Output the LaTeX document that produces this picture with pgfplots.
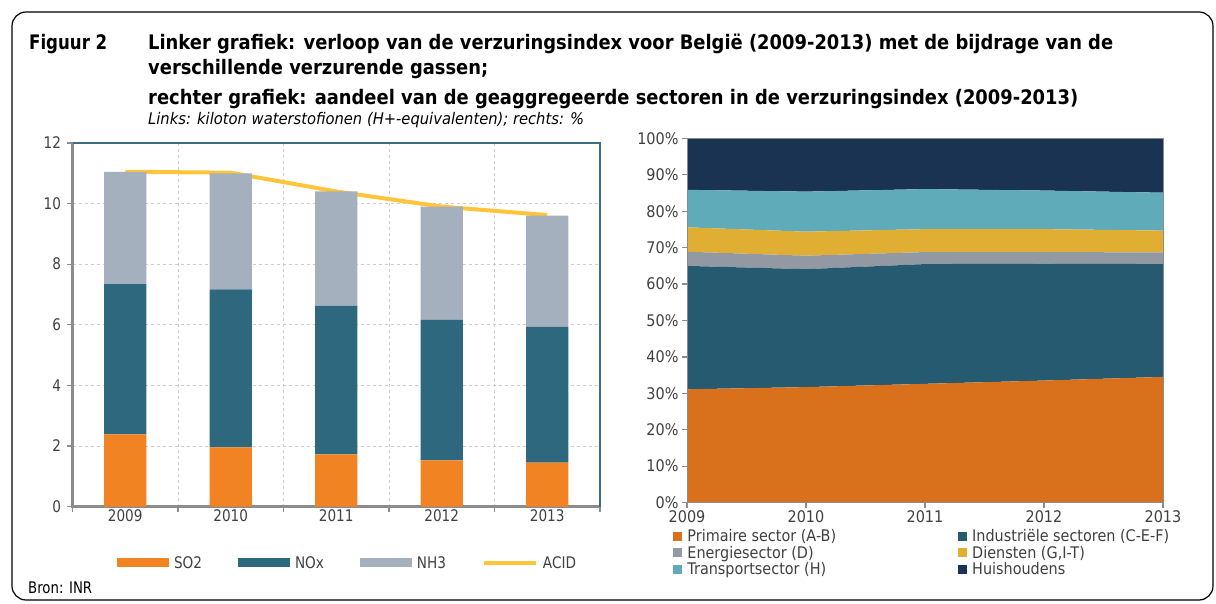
\documentclass[border=0pt]{standalone}
\usepackage{fontspec}
\setmainfont{DejaVu Sans}[FakeStretch=0.83]
\newfontfamily\rfont{DejaVu Sans}[FakeStretch=0.9]
\newfontfamily\lfont{DejaVu Sans}[FakeStretch=0.85]
\newfontfamily\tfont{DejaVu Sans}[FakeStretch=0.895]
\newfontfamily\sfont{DejaVu Sans}[FakeStretch=0.92]
\usepackage{pgfplots}
\pgfplotsset{compat=1.18}
\definecolor{cSO}{HTML}{F28322}
\definecolor{cNO}{HTML}{2E687E}
\definecolor{cNH}{HTML}{A5B0BE}
\definecolor{cAC}{HTML}{FFC53A}
\definecolor{cPri}{HTML}{D9711C}
\definecolor{cInd}{HTML}{265A70}
\definecolor{cEn}{HTML}{9299A3}
\definecolor{cDi}{HTML}{E0AE33}
\definecolor{cTr}{HTML}{5FABBA}
\definecolor{cHu}{HTML}{1A3352}
\definecolor{axgray}{HTML}{8C8C8C}
\definecolor{tealb}{HTML}{3B6E86}
\definecolor{txt}{HTML}{404040}
\begin{document}
\begin{tikzpicture}
\useasboundingbox (0pt,0pt) rectangle (1216pt,603pt);
\draw[line width=1.2pt, rounded corners=14pt] (12pt,3pt) rectangle (1213pt,591pt);
\node[anchor=base west, inner sep=0pt, font=\bfseries\fontsize{20}{24}\selectfont] at (29pt,553pt) {Figuur 2};
\node[anchor=base west, inner sep=0pt, font=\tfont\bfseries\fontsize{20}{24}\selectfont] at (148pt,553pt) {Linker grafiek: verloop van de verzuringsindex voor België (2009-2013) met de bijdrage van de};
\node[anchor=base west, inner sep=0pt, font=\tfont\bfseries\fontsize{20}{24}\selectfont] at (148pt,528pt) {verschillende verzurende gassen;};
\node[anchor=base west, inner sep=0pt, font=\tfont\bfseries\fontsize{20}{24}\selectfont] at (148pt,498pt) {rechter grafiek: aandeel van de geaggregeerde sectoren in de verzuringsindex (2009-2013)};
\node[anchor=base west, inner sep=0pt, font=\sfont\itshape\fontsize{16}{19}\selectfont] at (148pt,478pt) {Links: kiloton waterstofionen (H+-equivalenten); rechts: \%};
\node[anchor=base west, inner sep=0pt, font=\fontsize{16}{19}\selectfont] at (28pt,10pt) {Bron: INR};

\begin{axis}[
  at={(72.5pt,96.5pt)}, anchor=south west, scale only axis,
  width=527.5pt, height=363.5pt,
  xmin=-0.5, xmax=4.5, ymin=0, ymax=12,
  clip=false,
  axis line style={draw=none},
  ytick={0,2,...,12}, yticklabels={0,2,4,6,8,10,12},
  xtick={-0.5,0.5,...,4.5}, xticklabels={},
  extra x ticks={0,1,2,3,4}, extra x tick labels={2009,2010,2011,2012,2013},
  extra x tick style={grid=none, major tick length=0pt},
  xtick pos=bottom, ytick pos=left,
  xmajorgrids, ymajorgrids,
  grid style={dashed, color=black!20, line width=0.8pt},
  tick align=outside, major tick length=5pt,
  tick style={axgray, line width=1.2pt},
  tick label style={font=\lfont\fontsize{16}{18}\selectfont, text=txt},
  yticklabel style={xshift=-3pt},
  ybar stacked, bar width=0.4,
  legend style={at={(0.084,-0.155)}, anchor=west, draw=none, fill=none, inner sep=0pt,
    legend columns=4, font=\lfont\fontsize{16}{18}\selectfont, text=txt,
    /tikz/every odd column/.append style={column sep=3pt},
    /tikz/every even column/.append style={column sep=34pt}},
]
\addplot[fill=cSO, draw=none, legend image code/.code={\fill[cSO] (0pt,-4.5pt) rectangle (52pt,4.5pt);}] coordinates {(0,2.38) (1,1.95) (2,1.72) (3,1.52) (4,1.45)};
\addlegendentry{SO2}
\addplot[fill=cNO, draw=none, legend image code/.code={\fill[cNO] (0pt,-4.5pt) rectangle (52pt,4.5pt);}] coordinates {(0,4.96) (1,5.22) (2,4.90) (3,4.65) (4,4.48)};
\addlegendentry{NOx}
\addplot[fill=cNH, draw=none, legend image code/.code={\fill[cNH] (0pt,-4.5pt) rectangle (52pt,4.5pt);}] coordinates {(0,3.71) (1,3.83) (2,3.78) (3,3.73) (4,3.67)};
\addlegendentry{NH3}
\addplot[sharp plot, draw=cAC, line width=4pt, no marks, stack plots=false, legend image code/.code={\draw[cAC, line width=4pt] (0pt,0pt) -- (52pt,0pt);}] coordinates {(0,11.05) (1,11.02) (2,10.40) (3,9.90) (4,9.62)};
\addlegendentry{ACID}
\draw[tealb, line width=2pt] (rel axis cs:0,1) -- (rel axis cs:1,1) -- (rel axis cs:1,0);
\draw[axgray, line width=2.5pt] (rel axis cs:0,1) -- (rel axis cs:0,0) -- (rel axis cs:1,0);
\end{axis}

\begin{axis}[
  at={(687pt,100.5pt)}, anchor=south west, scale only axis,
  width=476pt, height=364pt,
  xmin=0, xmax=4, ymin=0, ymax=100,
  axis on top,
  axis line style={axgray, line width=1pt},
  xtick={0,1,2,3,4}, xticklabels={2009,2010,2011,2012,2013},
  ytick={0,10,...,100}, yticklabels={0\%,10\%,20\%,30\%,40\%,50\%,60\%,70\%,80\%,90\%,100\%},
  tick align=outside, major tick length=5pt,
  tick style={axgray, line width=1.2pt},
  xtick pos=bottom, ytick pos=left,
  tick label style={font=\rfont\fontsize{16}{18}\selectfont, text=txt},
  stack plots=y,
  legend style={at={(-0.029,-0.068)}, anchor=north west, draw=none, fill=none, inner sep=0pt,
    legend columns=2, font=\rfont\fontsize{16}{18}\selectfont, text=txt,
    row sep=-1pt,
    /tikz/every odd column/.append style={column sep=3pt},
    /tikz/every even column/.append style={column sep=120pt}},
  legend cell align=left,
]
\addplot[fill=cPri, draw=none, legend image code/.code={\fill[cPri] (0pt,-4.5pt) rectangle (9pt,4.5pt);}] coordinates {(0,31.1) (1,31.7) (2,32.6) (3,33.5) (4,34.5)} \closedcycle;
\addlegendentry{Primaire sector (A-B)}
\addplot[fill=cInd, draw=none, legend image code/.code={\fill[cInd] (0pt,-4.5pt) rectangle (9pt,4.5pt);}] coordinates {(0,33.9) (1,32.4) (2,32.9) (3,32.1) (4,31.0)} \closedcycle;
\addlegendentry{Industriële sectoren (C-E-F)}
\addplot[fill=cEn, draw=none, legend image code/.code={\fill[cEn] (0pt,-4.5pt) rectangle (9pt,4.5pt);}] coordinates {(0,3.9) (1,3.7) (2,3.3) (3,3.2) (4,3.2)} \closedcycle;
\addlegendentry{Energiesector (D)}
\addplot[fill=cDi, draw=none, legend image code/.code={\fill[cDi] (0pt,-4.5pt) rectangle (9pt,4.5pt);}] coordinates {(0,6.7) (1,6.6) (2,6.3) (3,6.3) (4,6.0)} \closedcycle;
\addlegendentry{Diensten (G,I-T)}
\addplot[fill=cTr, draw=none, legend image code/.code={\fill[cTr] (0pt,-4.5pt) rectangle (9pt,4.5pt);}] coordinates {(0,10.3) (1,11.0) (2,11.0) (3,10.6) (4,10.4)} \closedcycle;
\addlegendentry{Transportsector (H)}
\addplot[fill=cHu, draw=none, legend image code/.code={\fill[cHu] (0pt,-4.5pt) rectangle (9pt,4.5pt);}] coordinates {(0,14.1) (1,14.6) (2,13.9) (3,14.3) (4,14.9)} \closedcycle;
\addlegendentry{Huishoudens}
\end{axis}
\end{tikzpicture}
\end{document}
